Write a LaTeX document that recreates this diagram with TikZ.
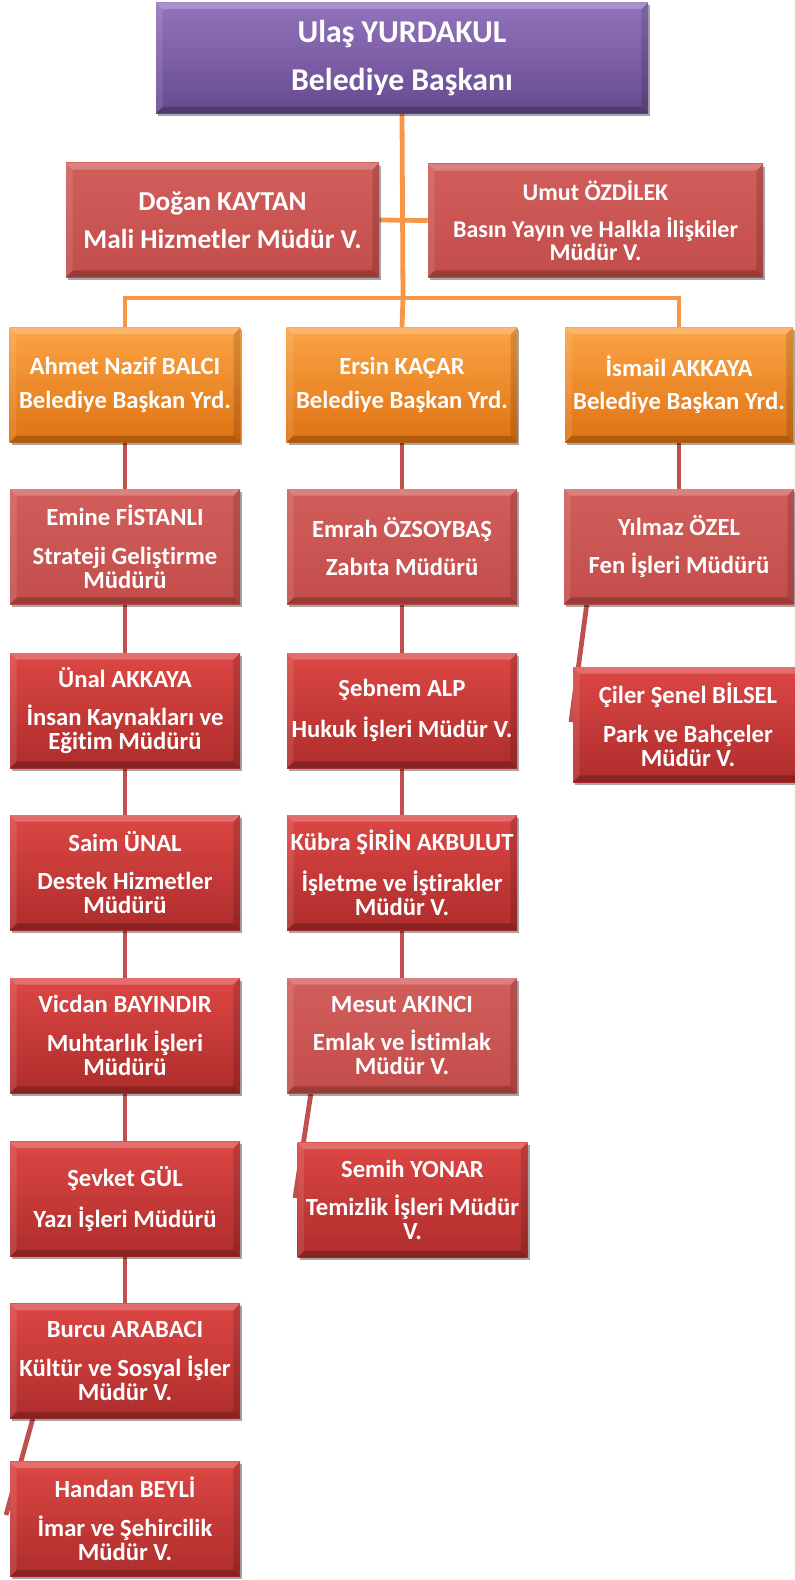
\documentclass[tikz,border=0pt]{standalone}
\usepackage{fontspec}
\setmainfont{Carlito}[Ligatures=NoCommon]
\usetikzlibrary{shadows,calc,backgrounds}
\definecolor{purpT}{HTML}{9274BD}
\definecolor{purpB}{HTML}{664A8F}
\definecolor{flatT}{HTML}{D25E5B}
\definecolor{flatB}{HTML}{C24D4A}
\definecolor{vivT}{HTML}{DC4745}
\definecolor{vivB}{HTML}{AE2D2B}
\definecolor{orT}{HTML}{FCA445}
\definecolor{orB}{HTML}{DE7212}
\definecolor{oline}{HTML}{F79646}
\definecolor{rline}{HTML}{C0504D}
\tikzset{
  bevel/.style={path picture={
    \fill[white,opacity=0.22] (path picture bounding box.north west) -- (path picture bounding box.north east)
      -- ([xshift=-5pt,yshift=-5pt]path picture bounding box.north east) -- ([xshift=5pt,yshift=-5pt]path picture bounding box.north west) -- cycle;
    \fill[white,opacity=0.10] (path picture bounding box.north west) -- ([xshift=5pt,yshift=-5pt]path picture bounding box.north west)
      -- ([xshift=5pt,yshift=5pt]path picture bounding box.south west) -- (path picture bounding box.south west) -- cycle;
    \fill[black,opacity=0.22] (path picture bounding box.south west) -- (path picture bounding box.south east)
      -- ([xshift=-5pt,yshift=5pt]path picture bounding box.south east) -- ([xshift=5pt,yshift=5pt]path picture bounding box.south west) -- cycle;
    \fill[black,opacity=0.14] (path picture bounding box.north east) -- ([xshift=-5pt,yshift=-5pt]path picture bounding box.north east)
      -- ([xshift=-5pt,yshift=5pt]path picture bounding box.south east) -- (path picture bounding box.south east) -- cycle;
  }},
  box/.style={rectangle, inner sep=0pt, align=center, text=white,
    font=\fontsize{18.5}{18}\selectfont\bfseries, bevel,
    drop shadow={shadow xshift=1.5pt, shadow yshift=-2pt, opacity=0.35, fill=black}},
  colbox/.style={box, minimum width=172.5pt, minimum height=86.25pt},
  purplebox/.style={box, top color=purpT, bottom color=purpB, font=\fontsize{23.8}{24}\selectfont\bfseries},
  flatbox/.style={top color=flatT, bottom color=flatB},
  vivbox/.style={top color=vivT, bottom color=vivB},
  orbox/.style={top color=orT, bottom color=orB},
  oconn/.style={draw=oline, line width=3.6pt},
  rconn/.style={draw=rline, line width=3.6pt},
  x=0.75pt, y=-0.75pt
}
\begin{document}
\begin{tikzpicture}
\useasboundingbox (0,0) rectangle (795,1580);
\coordinate (bus) at (403,298);
\coordinate (cilerEnd) at (571,722);
\coordinate (handanEnd) at (6,1515);
\coordinate (semihEnd) at (295,1198);

% ---------- boxes ----------
\node[purplebox, minimum width=369pt, minimum height=83.25pt] (top) at (402,58)
  {Ulaş YURDAKUL\\[12pt]Belediye Başkanı};
\node[box, flatbox, minimum width=234.75pt, minimum height=85.5pt, font=\fontsize{20.5}{20.5}\selectfont\bfseries] (dogan) at (222.5,220)
  {Doğan KAYTAN\\[8pt]Mali Hizmetler Müdür V.};
\node[box, flatbox, minimum width=251.25pt, minimum height=84.75pt, font=\fontsize{18}{17.5}\selectfont\bfseries] (umut) at (595.5,220.5)
  {Umut ÖZDİLEK\\[10pt]Basın Yayın ve Halkla İlişkiler\\Müdür V.};

\node[colbox, orbox, minimum width=173pt] (ahmet) at (125,385) {Ahmet Nazif BALCI\\[7pt]Belediye Başkan Yrd.};
\node[colbox, orbox, minimum width=173pt] (ersin) at (402,385) {Ersin KAÇAR\\[7pt]Belediye Başkan Yrd.};
\node[colbox, orbox, minimum width=171pt] (ismail) at (679,385) {İsmail AKKAYA\\[7pt]Belediye Başkan Yrd.};

% column 1
\node[colbox, flatbox] (emine) at (125,546.5) {Emine FİSTANLI\\[11pt]Strateji Geliştirme\\Müdürü};
\node[colbox, vivbox] (unal) at (125,710.5) {Ünal AKKAYA\\[11pt]İnsan Kaynakları ve\\Eğitim Müdürü};
\node[colbox, vivbox] (saim) at (125,872.5) {Saim ÜNAL\\[11pt]Destek Hizmetler\\Müdürü};
\node[colbox, vivbox] (vicdan) at (125,1035.5) {Vicdan BAYINDIR\\[11pt]Muhtarlık İşleri\\Müdürü};
\node[colbox, vivbox] (sevket) at (125,1199) {Şevket GÜL\\[11pt]Yazı İşleri Müdürü};
\node[colbox, vivbox] (burcu) at (125,1361) {Burcu ARABACI\\[11pt]Kültür ve Sosyal İşler\\Müdür V.};
\node[colbox, vivbox] (handan) at (125,1519) {Handan BEYLİ\\[11pt]İmar ve Şehircilik\\Müdür V.};

% column 2
\node[colbox, flatbox] (emrah) at (402,546.5) {Emrah ÖZSOYBAŞ\\[11pt]Zabıta Müdürü};
\node[colbox, vivbox] (sebnem) at (402,710.5) {Şebnem ALP\\[11pt]Hukuk İşleri Müdür V.};
\node[colbox, vivbox] (kubra) at (402,872.5) {Kübra ŞİRİN AKBULUT\\[11pt]İşletme ve İştirakler\\Müdür V.};
\node[colbox, flatbox] (mesut) at (402,1035.5) {Mesut AKINCI\\[11pt]Emlak ve İstimlak\\Müdür V.};
\node[colbox, vivbox] (semih) at (412.5,1200) {Semih YONAR\\[11pt]Temizlik İşleri Müdür\\V.};

% column 3
\node[colbox, flatbox] (yilmaz) at (679,546.5) {Yılmaz ÖZEL\\[11pt]Fen İşleri Müdürü};
\node[colbox, vivbox] (ciler) at (688,724.5) {Çiler Şenel BİLSEL\\[11pt]Park ve Bahçeler\\Müdür V.};

% ---------- connectors ----------
\begin{scope}[on background layer]
\draw[oconn] (top.south) -- (bus);
\draw[oconn] (dogan.east) -- (umut.west);
\draw[oconn] (ahmet.north) |- (bus) -| (ismail.north);
\draw[oconn] (bus) -- (ersin.north);
\foreach \a/\b in {ahmet/emine, emine/unal, unal/saim, saim/vicdan, vicdan/sevket, sevket/burcu,
                   ersin/emrah, emrah/sebnem, sebnem/kubra, kubra/mesut, ismail/yilmaz}
  \draw[rconn] (\a.south) -- (\b.north);
\draw[rconn] ($(yilmaz.south west)!0.1!(yilmaz.south east)$) -- (cilerEnd);
\draw[rconn] ($(burcu.south west)!0.1!(burcu.south east)$) -- (handanEnd);
\draw[rconn] ($(mesut.south west)!0.105!(mesut.south east)$) -- (semihEnd);
\end{scope}
\end{tikzpicture}
\end{document}
